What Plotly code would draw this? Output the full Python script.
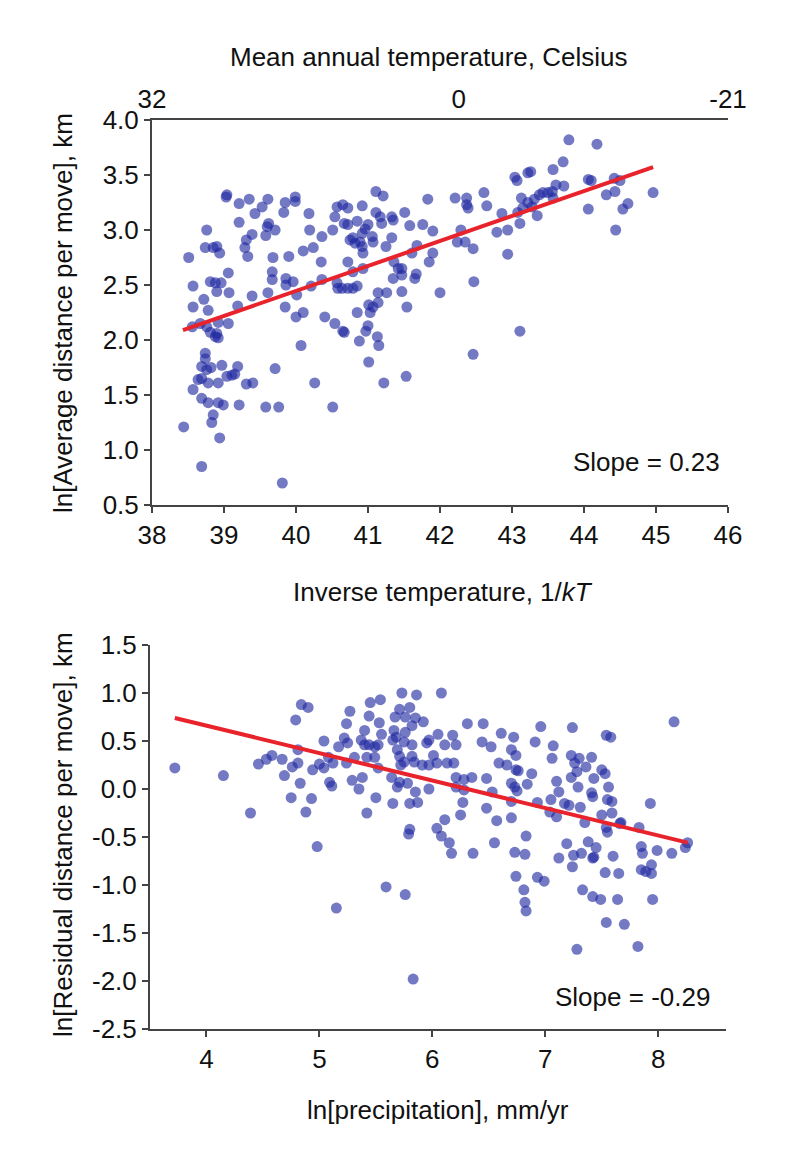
import plotly.graph_objects as go

FONT = "Liberation Sans, Arial, sans-serif"
W, H = 804, 1150          # browser window
OFF = 8                   # default page body margin
FW, FH = W - 2 * OFF, H - 2 * OFF

# ---------------- data: top panel (inverse temperature) ----------------
top_x = [39.03, 39.04, 39.21, 39.35, 39.53, 39.61, 39.43, 39.85, 39.83, 39.99, 39.99, 40.18, 40.57, 40.54,
         39.21, 38.76, 39.60, 39.62, 39.71, 39.58, 40.19, 40.51, 39.39, 39.31, 39.29, 39.33, 40.36, 38.74,
         38.85, 38.90, 38.94, 38.51, 39.68, 39.90, 40.10, 40.24, 40.35, 39.06, 39.67, 39.67, 39.86, 39.96,
         39.86, 38.57, 38.81, 38.88, 38.96, 38.90, 39.07, 39.39, 39.61, 40.01, 40.21, 40.36, 40.58, 38.57,
         38.72, 38.78, 39.19, 39.85, 40.00, 40.10, 40.40,
         40.54, 40.67, 38.56, 38.67, 38.76, 38.81, 38.88, 38.92, 38.90, 39.06, 38.92, 40.07, 38.74, 38.74,
         38.69, 38.76, 38.82, 38.97, 39.19, 39.04, 39.15, 39.11, 38.64, 38.69, 38.78, 38.92, 38.57, 39.31,
         39.40, 39.71, 40.26, 38.69, 38.78, 38.92, 38.99, 39.21, 39.58, 39.76, 40.51, 38.85, 38.83, 38.44,
         38.94, 38.69, 39.81,
         43.04, 43.07, 41.11, 41.21, 41.83, 42.21, 42.37, 42.37, 42.39, 42.61, 42.65, 40.65, 40.72, 40.92,
         40.67, 40.72, 41.11, 41.17, 41.33, 41.35, 41.51, 41.19, 40.85, 40.96, 41.00, 40.92, 40.75, 40.82,
         40.92, 40.79, 40.89, 40.93, 41.06, 41.07, 41.25, 41.33, 41.58, 41.76, 41.90, 41.68, 41.61, 41.90,
         41.85, 42.24, 42.29, 42.35, 42.46, 42.79, 42.94, 42.86, 42.94, 40.72, 40.79, 40.93, 41.36, 41.42,
         41.47, 41.35, 41.47, 41.67, 41.65, 42.47, 40.57, 40.64, 40.72, 40.79, 40.85, 41.14, 41.26, 41.47,
         42.00, 41.01, 41.07, 41.14, 41.54, 40.85,
         41.03, 40.65, 41.00, 40.97, 41.13, 41.15, 40.88, 41.01, 41.53, 41.22, 42.46, 43.11,
         43.79, 44.18, 43.71, 43.57, 43.22, 43.26, 44.06, 44.10, 44.42, 44.50, 43.61, 43.72, 43.56, 43.50,
         43.43, 43.38, 43.31, 43.22, 43.13, 43.57, 44.31, 44.43, 44.96, 44.61, 44.54, 44.06, 43.08, 43.15,
         43.28, 43.35, 43.11, 44.44]
top_y = [3.30, 3.32, 3.24, 3.28, 3.21, 3.28, 3.15, 3.25, 3.16, 3.30, 3.26, 3.15, 3.21, 3.12,
         3.07, 3.00, 3.03, 3.06, 3.00, 2.95, 3.00, 3.00, 2.96, 2.91, 2.84, 2.76, 2.94, 2.84,
         2.84, 2.85, 2.79, 2.75, 2.75, 2.76, 2.81, 2.84, 2.71, 2.61, 2.62, 2.55, 2.56, 2.53,
         2.50, 2.49, 2.53, 2.52, 2.52, 2.44, 2.43, 2.40, 2.43, 2.41, 2.49, 2.55, 2.47, 2.30,
         2.37, 2.27, 2.31, 2.30, 2.21, 2.25, 2.21,
         2.15, 2.07, 2.12, 2.15, 2.12, 2.07, 2.03, 2.02, 2.06, 2.15, 2.16, 1.95, 1.88, 1.83,
         1.76, 1.73, 1.75, 1.77, 1.76, 1.67, 1.69, 1.68, 1.64, 1.65, 1.61, 1.61, 1.55, 1.60,
         1.61, 1.74, 1.61, 1.47, 1.43, 1.43, 1.41, 1.41, 1.39, 1.39, 1.39, 1.32, 1.25, 1.21,
         1.11, 0.85, 0.70,
         3.48, 3.45, 3.35, 3.31, 3.28, 3.29, 3.29, 3.23, 3.20, 3.34, 3.22, 3.23, 3.20, 3.22,
         3.06, 3.05, 3.16, 3.12, 3.12, 3.09, 3.16, 3.06, 3.08, 3.01, 3.05, 2.97, 2.91, 2.88,
         2.85, 2.93, 2.89, 2.79, 2.94, 2.89, 2.85, 2.93, 3.04, 3.05, 2.99, 2.86, 2.79, 2.79,
         2.71, 2.89, 3.00, 2.89, 2.83, 2.98, 3.00, 3.15, 2.78, 2.71, 2.62, 2.65, 2.71, 2.65,
         2.65, 2.56, 2.59, 2.60, 2.56, 2.53, 2.52, 2.47, 2.47, 2.47, 2.49, 2.43, 2.43, 2.44,
         2.43, 2.32, 2.30, 2.34, 2.30, 2.25,
         2.25, 2.08, 2.13, 2.08, 2.03, 1.95, 1.99, 1.80, 1.67, 1.61, 1.87, 2.08,
         3.82, 3.78, 3.62, 3.55, 3.52, 3.53, 3.46, 3.45, 3.47, 3.45, 3.41, 3.40, 3.35, 3.34,
         3.34, 3.32, 3.28, 3.25, 3.29, 3.29, 3.32, 3.35, 3.34, 3.24, 3.19, 3.19, 3.16, 3.20,
         3.21, 3.13, 3.06, 3.00]

top_fit_x = [38.43, 44.96]
top_slope = 0.227
top_intercept = -6.634

# ---------------- data: bottom panel (precipitation) ----------------
bot_x = [3.72, 4.15, 4.39, 4.84, 4.90, 4.79, 5.04, 5.17, 4.81, 4.46, 4.53, 4.58, 4.67, 4.76, 4.81,
         4.94, 5.00, 5.04, 5.08, 5.12, 4.69, 4.83, 5.09, 5.11, 4.75, 4.93, 4.88,
         4.98, 5.15,
         5.73, 5.86, 6.08, 5.45, 5.54, 5.27, 5.44, 5.71, 5.80, 5.67, 5.76, 5.85, 5.92, 5.82, 5.24,
         5.53, 5.40, 5.55, 5.66, 5.76, 5.68, 6.05, 6.18, 6.31, 6.45, 6.61, 6.72, 5.22, 5.37, 5.40,
         5.44, 5.49, 5.52, 5.25, 5.65, 5.75, 5.82, 5.95, 5.97, 6.01, 6.11, 6.21, 5.69, 5.71, 5.75,
         5.82, 5.84, 5.72, 6.44, 6.52, 6.70, 6.74, 5.42, 5.49, 5.31, 5.24, 5.91, 5.97, 6.04, 6.13,
         6.19, 5.52, 6.59, 6.66, 6.74, 5.29, 5.38, 5.64, 5.71, 5.78, 5.69, 5.35, 5.85, 5.87, 5.80,
         5.97, 6.21, 6.28, 6.35, 6.21, 6.28, 6.48, 6.53, 6.70, 6.73, 6.75, 5.50, 5.65, 5.42, 6.27,
         6.48, 6.57, 6.70, 6.25, 6.11, 5.80, 6.04,
         5.79, 6.08, 6.15, 6.17, 6.36, 6.55, 6.73, 6.74, 5.59, 5.76, 5.83,
         8.14, 6.96, 7.24, 6.91, 7.54, 7.58, 7.07, 7.06, 7.23, 7.30, 7.41, 7.26, 7.36, 7.28, 6.76,
         6.88, 6.84, 7.50, 7.53, 7.43, 7.23, 7.10, 7.12, 7.29, 7.56, 7.41, 7.42, 6.70, 6.93, 7.05,
         7.17, 7.21, 7.31, 7.55, 7.59, 7.93, 7.04, 7.10, 7.35, 7.50, 7.59, 7.67, 7.83, 7.54,
         6.83, 6.82, 6.93, 6.99, 6.81, 6.82, 6.83, 7.19, 7.12, 7.25, 7.32, 7.38, 7.45, 7.24, 7.42,
         7.43, 7.55, 7.66, 7.60, 7.53, 7.65, 7.33, 7.42, 7.49, 7.64, 7.85, 7.86, 7.99, 8.12, 8.24,
         8.26, 7.85, 7.89, 7.94, 7.94, 7.95, 7.54, 7.70, 7.28, 7.82]
bot_y = [0.22, 0.14, -0.25, 0.88, 0.85, 0.72, 0.50, 0.44, 0.41, 0.26, 0.31, 0.35, 0.31, 0.23, 0.27,
         0.20, 0.26, 0.22, 0.33, 0.27, 0.14, 0.06, 0.07, 0.03, -0.09, -0.10, -0.24,
         -0.60, -1.24,
         1.00, 0.98, 1.00, 0.90, 0.93, 0.81, 0.76, 0.83, 0.85, 0.75, 0.75, 0.74, 0.70, 0.66, 0.68,
         0.69, 0.61, 0.57, 0.61, 0.59, 0.54, 0.57, 0.56, 0.68, 0.68, 0.58, 0.54, 0.53, 0.51, 0.46,
         0.46, 0.44, 0.46, 0.48, 0.51, 0.49, 0.46, 0.48, 0.51, 0.35, 0.46, 0.46, 0.41, 0.34, 0.28,
         0.34, 0.28, 0.25, 0.49, 0.44, 0.41, 0.35, 0.33, 0.33, 0.33, 0.27, 0.25, 0.25, 0.27, 0.27,
         0.27, 0.22, 0.27, 0.25, 0.20, 0.09, 0.12, 0.12, 0.07, 0.06, 0.02, 0.00, -0.03, -0.14, -0.15,
         0.00, 0.12, 0.10, 0.12, 0.02, -0.01, 0.11, -0.03, 0.06, 0.02, -0.02, -0.09, -0.15, -0.25, -0.14,
         -0.20, -0.33, -0.30, -0.27, -0.32, -0.42, -0.41,
         -0.47, -0.49, -0.56, -0.67, -0.67, -0.56, -0.66, -0.91, -1.02, -1.10, -1.98,
         0.70, 0.65, 0.64, 0.49, 0.56, 0.54, 0.45, 0.32, 0.35, 0.32, 0.33, 0.27, 0.23, 0.18, 0.19,
         0.16, 0.05, 0.20, 0.16, 0.11, 0.12, 0.08, -0.03, 0.02, 0.02, -0.04, -0.08, -0.13, -0.14, -0.11,
         -0.15, -0.17, -0.19, -0.11, -0.13, -0.15, -0.24, -0.29, -0.35, -0.27, -0.25, -0.35, -0.40, -0.40,
         -0.49, -0.68, -0.92, -0.96, -1.05, -1.18, -1.27, -0.57, -0.72, -0.69, -0.67, -0.55, -0.61, -0.81, -0.72,
         -0.71, -0.45, -0.36, -0.70, -0.87, -0.88, -1.05, -1.12, -1.15, -1.15, -0.60, -0.67, -0.64, -0.67, -0.61,
         -0.56, -0.84, -0.86, -0.88, -0.79, -1.15, -1.39, -1.41, -1.67, -1.64]

bot_fit_x = [3.72, 8.26]
bot_slope = -0.286
bot_intercept = 1.804

# ---------------- tick labels ----------------
top_xticks = [38, 39, 40, 41, 42, 43, 44, 45, 46]
top_yticks = [0.5, 1.0, 1.5, 2.0, 2.5, 3.0, 3.5, 4.0]
top_ytick_text = ["0.5", "1.0", "1.5", "2.0", "2.5", "3.0", "3.5", "4.0"]
celsius_tick_pos = [38.0, 42.26, 46.0]
celsius_tick_text = ["32", "0", "-21"]
bot_xticks = [4, 5, 6, 7, 8]
bot_yticks = [1.5, 1.0, 0.5, 0.0, -0.5, -1.0, -1.5, -2.0, -2.5]
bot_ytick_text = ["1.5", "1.0", "0.5", "0.0", "-0.5", "-1.0", "-1.5", "-2.0", "-2.5"]

MARKER = dict(size=11, color="rgba(30,38,160,0.62)", line=dict(width=0))
LINE = dict(color="#e8232b", width=4)
AXC = "#444444"
TXT = "#111111"
FS = 26


def px_x(p):
    return (p - OFF) / FW


def px_y(p):
    return 1 - (p - OFF) / FH


fig = go.Figure()
fig.add_trace(go.Scatter(x=top_x, y=top_y, mode="markers", marker=MARKER,
                         xaxis="x", yaxis="y", showlegend=False, hoverinfo="x+y"))
fig.add_trace(go.Scatter(x=top_fit_x, y=[top_intercept + top_slope * v for v in top_fit_x],
                         mode="lines", line=LINE, xaxis="x", yaxis="y", showlegend=False))
fig.add_trace(go.Scatter(x=celsius_tick_pos, y=[None] * len(celsius_tick_pos), mode="markers",
                         xaxis="x2", yaxis="y", showlegend=False, hoverinfo="skip"))
fig.add_trace(go.Scatter(x=bot_x, y=bot_y, mode="markers", marker=MARKER,
                         xaxis="x3", yaxis="y3", showlegend=False, hoverinfo="x+y"))
fig.add_trace(go.Scatter(x=bot_fit_x, y=[bot_intercept + bot_slope * v for v in bot_fit_x],
                         mode="lines", line=LINE, xaxis="x3", yaxis="y3", showlegend=False))

axis_common = dict(showline=True, linecolor=AXC, linewidth=2, ticks="outside", ticklen=6,
                   tickwidth=2, tickcolor=AXC, showgrid=False, zeroline=False, automargin=False,
                   tickfont=dict(family=FONT, size=FS, color=TXT))

fig.update_layout(
    width=FW, height=FH,
    margin=dict(l=0, r=0, t=0, b=0),
    paper_bgcolor="white", plot_bgcolor="white",
    font=dict(family=FONT, size=FS, color=TXT),
    xaxis=dict(axis_common, domain=[px_x(152), px_x(728)], range=[38, 46], anchor="y",
               tickvals=top_xticks),
    yaxis=dict(axis_common, domain=[px_y(505), px_y(120)], range=[0.5, 4.0], anchor="x",
               tickvals=top_yticks, ticktext=top_ytick_text),
    xaxis2=dict(showline=True, linecolor=AXC, linewidth=2, ticks="", showgrid=False,
                zeroline=False, overlaying="x", side="top", anchor="y", range=[38, 46],
                automargin=False, tickvals=celsius_tick_pos, ticktext=celsius_tick_text,
                tickfont=dict(family=FONT, size=FS, color=TXT)),
    xaxis3=dict(axis_common, domain=[px_x(150), px_x(726)], range=[3.5, 8.6], anchor="y3",
                tickvals=bot_xticks),
    yaxis3=dict(axis_common, domain=[px_y(1029), px_y(645)], range=[-2.5, 1.5], anchor="x3",
                tickvals=bot_yticks, ticktext=bot_ytick_text),
    annotations=[
        dict(text="Mean annual temperature, Celsius", x=px_x(428), y=px_y(57), xref="paper",
             yref="paper", showarrow=False, xanchor="center", yanchor="middle",
             font=dict(family=FONT, size=FS, color=TXT)),
        dict(text="Inverse temperature, 1/<i>kT</i>", x=px_x(443), y=px_y(592), xref="paper",
             yref="paper", showarrow=False, xanchor="center", yanchor="middle",
             font=dict(family=FONT, size=FS, color=TXT)),
        dict(text="ln[precipitation], mm/yr", x=px_x(438), y=px_y(1110), xref="paper",
             yref="paper", showarrow=False, xanchor="center", yanchor="middle",
             font=dict(family=FONT, size=FS, color=TXT)),
        dict(text="ln[Average distance per move], km", x=px_x(63), y=px_y(313), xref="paper",
             yref="paper", showarrow=False, textangle=-90, xanchor="center", yanchor="middle",
             font=dict(family=FONT, size=FS, color=TXT)),
        dict(text="ln[Residual distance per move], km", x=px_x(63), y=px_y(835), xref="paper",
             yref="paper", showarrow=False, textangle=-90, xanchor="center", yanchor="middle",
             font=dict(family=FONT, size=FS, color=TXT)),
        dict(text="Slope = 0.23", x=px_x(722), y=px_y(462), xref="paper", yref="paper",
             showarrow=False, xanchor="right", yanchor="middle",
             font=dict(family=FONT, size=FS, color=TXT)),
        dict(text="Slope = -0.29", x=px_x(712), y=px_y(997), xref="paper", yref="paper",
             showarrow=False, xanchor="right", yanchor="middle",
             font=dict(family=FONT, size=FS, color=TXT)),
    ],
)

fig.write_html("out.html")
